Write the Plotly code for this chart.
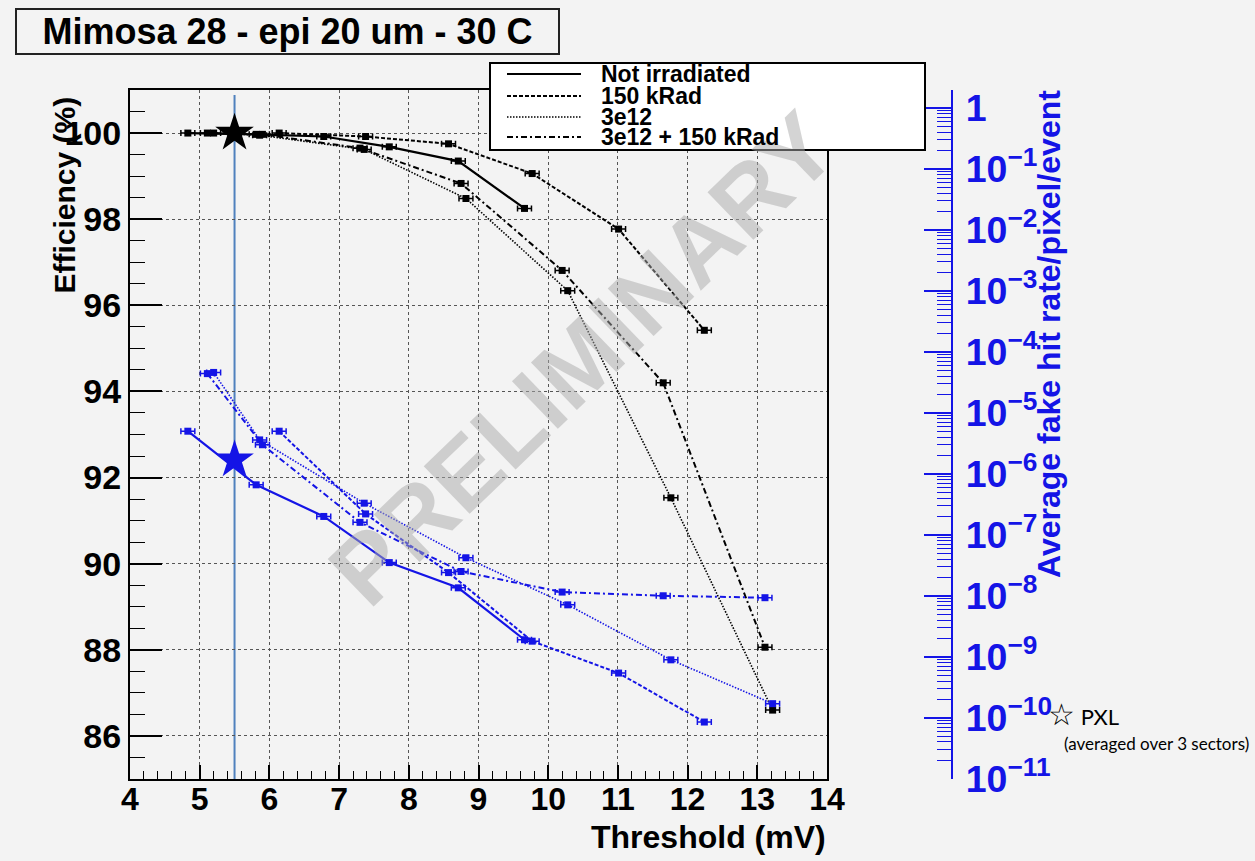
import plotly.graph_objects as go

# ---------------- data ----------------
series_names = ["Not irradiated", "150 kRad", "3e12", "3e12 + 150 kRad"]

thr_not_irr = [4.83, 5.81, 6.78, 7.72, 8.71, 9.66]
eff_not_irr = [100.0, 99.97, 99.92, 99.68, 99.35, 98.25]
fake_not_irr = [5.0e-6, 6.6e-7, 2.0e-7, 3.5e-8, 1.35e-8, 1.9e-9]

thr_150k = [6.14, 7.38, 8.57, 9.77, 11.01, 12.24]
eff_150k = [100.0, 99.92, 99.75, 99.06, 97.77, 95.42]
fake_150k = [5.0e-6, 2.2e-7, 2.4e-8, 1.8e-9, 5.4e-10, 8.5e-11]

thr_3e12 = [5.20, 5.86, 7.36, 8.82, 10.28, 11.76, 13.22]
eff_3e12 = [100.0, 99.95, 99.62, 98.48, 96.34, 91.53, 86.60]
fake_3e12 = [4.6e-5, 3.6e-6, 3.3e-7, 4.2e-8, 7.1e-9, 8.9e-10, 1.7e-10]

thr_3e12_150k = [5.11, 5.90, 7.30, 8.75, 10.20, 11.65, 13.11]
eff_3e12_150k = [100.0, 99.97, 99.65, 98.83, 96.81, 94.20, 88.06]
fake_3e12_150k = [4.4e-5, 3.0e-6, 1.6e-7, 2.5e-8, 1.15e-8, 1.0e-8, 9.3e-9]

pxl_threshold = 5.5
pxl_eff = 100.0
pxl_fake = 1.7e-6

x_ticks = list(range(4, 15))

# ---------------- styles ----------------
W, H = 1255, 861
def px(x):
    return x / W
def py(y):
    return 1 - y / H

BG = "#f3f3f3"
BLUE = "#1414e6"
FONT = "Liberation Sans, Arial, sans-serif"
dashes = ["solid", "4px,2px", "1.5px,1.5px", "6px,3px,2px,3px"]
widths = [2.2, 2, 1.6, 2]

thr_all = [thr_not_irr, thr_150k, thr_3e12, thr_3e12_150k]
eff_all = [eff_not_irr, eff_150k, eff_3e12, eff_3e12_150k]
fake_all = [fake_not_irr, fake_150k, fake_3e12, fake_3e12_150k]

fig = go.Figure()

for name, t, e, d, w in zip(series_names, thr_all, eff_all, dashes, widths):
    fig.add_trace(go.Scatter(
        x=t, y=e, name=name, mode="lines+markers", yaxis="y",
        line=dict(color="black", dash=d, width=w),
        marker=dict(symbol="square", size=7, color="black"),
        error_x=dict(type="constant", value=0.1, thickness=1.5, width=3, color="black"),
        showlegend=False))

for name, t, f, d, w in zip(series_names, thr_all, fake_all, dashes, widths):
    fig.add_trace(go.Scatter(
        x=t, y=f, name=name + " (fake rate)", mode="lines+markers", yaxis="y2",
        line=dict(color=BLUE, dash=d, width=w),
        marker=dict(symbol="square", size=7, color=BLUE),
        error_x=dict(type="constant", value=0.1, thickness=1.5, width=3, color=BLUE),
        showlegend=False))

# PXL stars
fig.add_trace(go.Scatter(x=[pxl_threshold], y=[pxl_eff], mode="markers", yaxis="y",
                         marker=dict(symbol="star", size=29, color="black"), showlegend=False))
fig.add_trace(go.Scatter(x=[pxl_threshold], y=[pxl_fake], mode="markers", yaxis="y2",
                         marker=dict(symbol="star", size=29, color=BLUE), showlegend=False))

fig.update_layout(
    width=W, height=H,
    margin=dict(l=0, r=0, t=0, b=0, autoexpand=False),
    paper_bgcolor=BG, plot_bgcolor=BG,
    showlegend=False,
    xaxis=dict(
        domain=[px(130), px(827)], range=[4, 14], automargin=False,
        tickmode="array", tickvals=x_ticks,
        ticks="inside", ticklen=14, tickwidth=1.5, tickcolor="black",
        minor=dict(dtick=0.2, ticks="inside", ticklen=8, tickwidth=1.2, tickcolor="black", showgrid=False),
        showline=True, linecolor="black", linewidth=2, mirror=True,
        showgrid=True, gridcolor="#555", griddash="dot", gridwidth=1,
        tickfont=dict(family=FONT, size=32, color="black", weight="bold"),
        zeroline=False, ticklabelstandoff=-9,
    ),
    yaxis=dict(
        domain=[py(779), py(90)], range=[85, 101], automargin=False,
        tick0=0, dtick=2,
        ticks="inside", ticklen=32, tickwidth=1.5, tickcolor="black",
        minor=dict(dtick=0.5, ticks="inside", ticklen=15, tickwidth=1.2, tickcolor="black", showgrid=False),
        showline=True, linecolor="black", linewidth=2, mirror=True,
        showgrid=True, gridcolor="#555", griddash="dot", gridwidth=1,
        tickfont=dict(family=FONT, size=34, color="black", weight="bold"),
        zeroline=False,
    ),
    yaxis2=dict(
        type="log", range=[-11.005, 0.295], overlaying="y", side="right",
        anchor="free", position=px(952), automargin=False,
        tick0=0, dtick=1, exponentformat="power",
        ticks="inside", ticklen=27, tickwidth=1.5, tickcolor=BLUE,
        minor=dict(dtick="D1", ticks="inside", ticklen=14, tickwidth=1.2, tickcolor=BLUE, showgrid=False),
        showline=True, linecolor=BLUE, linewidth=1.5,
        showgrid=False, zeroline=False, ticklabelstandoff=7,
        tickfont=dict(family=FONT, size=30, color=BLUE, weight="bold"),
    ),
)

shapes = []
# vertical PXL threshold line
shapes.append(dict(type="line", xref="x", yref="paper", x0=pxl_threshold, x1=pxl_threshold,
                   y0=py(779), y1=py(95), line=dict(color="#4f81bd", width=2), layer="below"))
# legend box
shapes.append(dict(type="rect", xref="paper", yref="paper", x0=px(490), x1=px(925), y0=py(150), y1=py(63),
                   fillcolor="white", line=dict(color="black", width=2), layer="above"))
legend_rows = [74, 96, 117, 137]
for row, d, w in zip(legend_rows, dashes, widths):
    shapes.append(dict(type="line", xref="paper", yref="paper", x0=px(507), x1=px(581), y0=py(row), y1=py(row),
                       line=dict(color="black", dash=d, width=w), layer="above"))
fig.update_layout(shapes=shapes)

ann = []
# watermark
ann.append(dict(text="PRELIMINARY", xref="paper", yref="paper", x=px(582), y=py(358),
                xanchor="center", yanchor="middle", showarrow=False, textangle=-44,
                font=dict(family=FONT, size=96, color="rgba(170,170,170,0.5)", weight="bold")))
# legend text
for row, name in zip(legend_rows, series_names):
    ann.append(dict(text=name, xref="paper", yref="paper", x=px(599), y=py(row), xanchor="left", yanchor="middle",
                    showarrow=False, font=dict(family=FONT, size=23, color="black", weight="bold")))
# title box
ann.append(dict(text="Mimosa 28 - epi 20 um - 30 C", xref="paper", yref="paper", x=px(15), y=py(8),
                xanchor="left", yanchor="top", showarrow=False, width=539, height=41,
                bordercolor="#222", borderwidth=2, bgcolor=BG, align="center", valign="middle",
                font=dict(family=FONT, size=36, color="black", weight="bold")))
# axis titles
ann.append(dict(text="Threshold (mV)", xref="paper", yref="paper", x=px(828), y=py(837),
                xanchor="right", yanchor="middle", showarrow=False,
                font=dict(family=FONT, size=32, color="black", weight="bold")))
ann.append(dict(text="Efficiency (%)", xref="paper", yref="paper", x=px(64), y=py(95),
                xanchor="center", yanchor="top", showarrow=False, textangle=-90,
                font=dict(family=FONT, size=30, color="black", weight="bold")))
ann.append(dict(text="Average fake hit rate/pixel/event", xref="paper", yref="paper", x=px(1049), y=py(88),
                xanchor="center", yanchor="top", showarrow=False, textangle=-90,
                font=dict(family=FONT, size=32, color=BLUE, weight="bold")))
# PXL note
ann.append(dict(text="<span style='font-size:30px'>☆</span> PXL", xref="paper", yref="paper", x=px(1046), y=py(713),
                xanchor="left", yanchor="middle", showarrow=False,
                font=dict(family="Lato, Open Sans, sans-serif", size=22, color="black")))
ann.append(dict(text="(averaged over 3 sectors)", xref="paper", yref="paper", x=px(1062), y=py(743),
                xanchor="left", yanchor="middle", showarrow=False,
                font=dict(family="Lato, Open Sans, sans-serif", size=17, color="black")))
fig.update_layout(annotations=ann)

fig.write_html("out.html")
